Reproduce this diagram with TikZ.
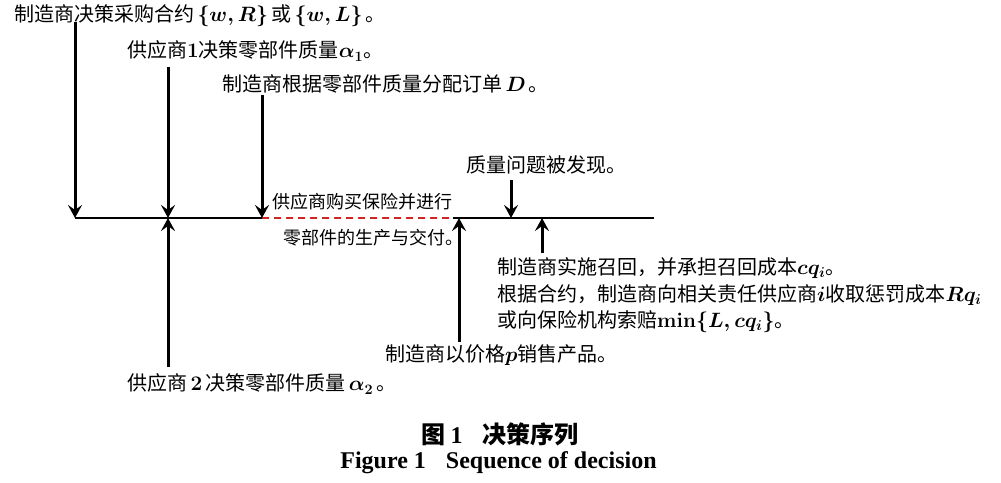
\documentclass[tikz,border=0pt]{standalone}
\usepackage[no-math]{fontspec}
\setmainfont{Noto Sans CJK SC}
\newfontfamily\tnr{Liberation Serif}
\usetikzlibrary{arrows.meta}
\definecolor{dashred}{RGB}{205,40,40}
\begin{document}
\begin{tikzpicture}[x=1pt,y=-1pt,
  lbl/.style={inner sep=0pt, anchor=west, font=\fontsize{20}{24}\selectfont\boldmath},
  slbl/.style={inner sep=0pt, anchor=west, font=\fontsize{18}{22}\selectfont},
  evarrow/.style={line width=3pt, -{Stealth[length=13pt,width=14pt,inset=5pt]}},
  tline/.style={line width=1.5pt},
  dline/.style={line width=1.5pt, draw=dashred, dash pattern=on 7pt off 5pt}]
\useasboundingbox (0,0) rectangle (1001,482);
% timeline
\coordinate (L0) at (75,218);
\coordinate (D0) at (262,218);
\coordinate (D1) at (453,218);
\coordinate (L1) at (654,218);
\draw[tline] (L0) -- (D0);
\draw[dline] (D0) -- (D1);
\draw[tline] (D1) -- (L1);
% labels
\node[lbl] (t1) at (14,16) {制造商决策采购合约\,$\{w,R\}$\,或\,$\{w,L\}$\,。};
\node[lbl] (t2) at (127,51) {供应商$1$决策零部件质量$\alpha_1$。};
\node[lbl] (t3) at (222,84) {制造商根据零部件质量分配订单\,$D$\,。};
\node[slbl] (t4) at (272,202) {供应商购买保险并进行};
\node[slbl] (t5) at (283,238) {零部件的生产与交付。};
\node[lbl] (t6) at (466,165) {质量问题被发现。};
\node[lbl] (t7) at (497,268) {制造商实施召回，并承担召回成本$cq_i$。};
\node[lbl] (t8) at (497,295) {根据合约，制造商向相关责任供应商$i$收取惩罚成本$Rq_i$};
\node[lbl] (t9) at (497,322) {或向保险机构索赔$\min\{L,cq_i\}$。};
\node[lbl] (t10) at (385,355) {制造商以价格$p$销售产品。};
\node[lbl] (t11) at (127,384) {供应商\,$\mathbf{2}$\,决策零部件质量\,$\alpha_2$\,。};
% arrow endpoints
\coordinate (a1s) at (75,22);   \coordinate (a1e) at (75,218);
\coordinate (a2s) at (168,67);  \coordinate (a2e) at (168,218);
\coordinate (a3s) at (262,95);  \coordinate (a3e) at (262,218);
\coordinate (a4s) at (511,180); \coordinate (a4e) at (511,218);
\coordinate (b1s) at (168,367); \coordinate (b1e) at (168,218);
\coordinate (b2s) at (459,342); \coordinate (b2e) at (459,218);
\coordinate (b3s) at (542,253); \coordinate (b3e) at (542,218);
\draw[evarrow] (a1s) -- (a1e);
\draw[evarrow] (a2s) -- (a2e);
\draw[evarrow] (a3s) -- (a3e);
\draw[evarrow] (a4s) -- (a4e);
\draw[evarrow] (b1s) -- (b1e);
\draw[evarrow] (b2s) -- (b2e);
\draw[evarrow] (b3s) -- (b3e);
% caption
\node[inner sep=0pt, anchor=center, font=\fontsize{24}{28}\selectfont\bfseries] (cap1) at (500,434)
  {图\hspace{5pt}{\tnr 1}\hspace{20pt}决策序列};
\node[inner sep=0pt, anchor=base, font=\fontsize{24}{28}\selectfont\tnr\bfseries] (cap2) at (498.5,468)
  {Figure 1\hspace{20pt}Sequence of decision};
\end{tikzpicture}
\end{document}
